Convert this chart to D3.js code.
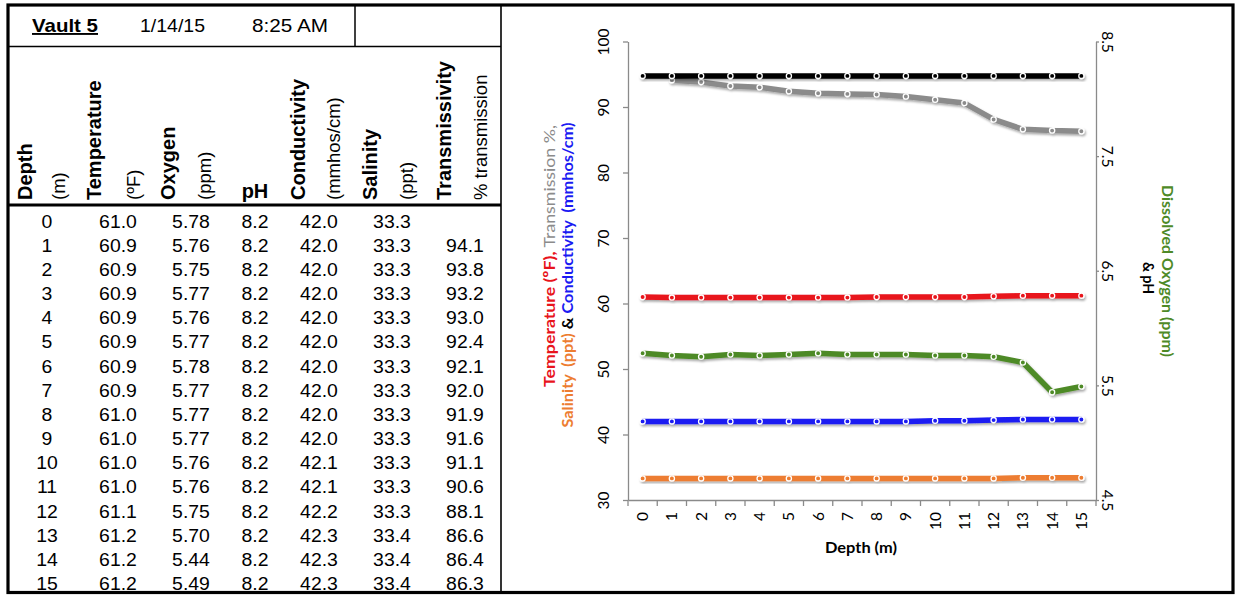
<!DOCTYPE html>
<html>
<head>
<meta charset="utf-8">
<script src="https://cdn.jsdelivr.net/npm/d3@7"></script>
<style>
  html, body { margin: 0; padding: 0; background: #fff; }
  svg { display: block; }
</style>
</head>
<body>
<svg id="sheet" width="1235" height="595"></svg>
<script>
// Vault 5 profile, 1/14/15 8:25 AM
const depths = [0, 1, 2, 3, 4, 5, 6, 7, 8, 9, 10, 11, 12, 13, 14, 15];
const temperature = [61.0, 60.9, 60.9, 60.9, 60.9, 60.9, 60.9, 60.9, 61.0, 61.0, 61.0, 61.0, 61.1, 61.2, 61.2, 61.2];
const oxygen = [5.78, 5.76, 5.75, 5.77, 5.76, 5.77, 5.78, 5.77, 5.77, 5.77, 5.76, 5.76, 5.75, 5.70, 5.44, 5.49];
const pH = [8.2, 8.2, 8.2, 8.2, 8.2, 8.2, 8.2, 8.2, 8.2, 8.2, 8.2, 8.2, 8.2, 8.2, 8.2, 8.2];
const conductivity = [42.0, 42.0, 42.0, 42.0, 42.0, 42.0, 42.0, 42.0, 42.0, 42.0, 42.1, 42.1, 42.2, 42.3, 42.3, 42.3];
const salinity = [33.3, 33.3, 33.3, 33.3, 33.3, 33.3, 33.3, 33.3, 33.3, 33.3, 33.3, 33.3, 33.3, 33.4, 33.4, 33.4];
const transmission = [null, 94.1, 93.8, 93.2, 93.0, 92.4, 92.1, 92.0, 91.9, 91.6, 91.1, 90.6, 88.1, 86.6, 86.4, 86.3];

const leftTicks = [30, 40, 50, 60, 70, 80, 90, 100];
const rightTicks = [4.5, 5.5, 6.5, 7.5, 8.5];

const svg = d3.select("#sheet");
const TABLE_FONT = "'Liberation Sans', Arial, Helvetica, sans-serif";
const CHART_FONT = "Lato, 'Open Sans', sans-serif";

/* ---------------- table ---------------- */
const table = svg.append("g").attr("font-family", TABLE_FONT).attr("fill", "#000");

// header line 1
table.append("text").attr("x", 32).attr("y", 32).attr("font-size", 19).attr("font-weight", "bold")
  .attr("text-decoration", "underline").attr("textLength", 66).attr("lengthAdjust", "spacingAndGlyphs").text("Vault 5");
table.append("text").attr("x", 140).attr("y", 32).attr("font-size", 18.5)
  .attr("textLength", 65).attr("lengthAdjust", "spacingAndGlyphs").text("1/14/15");
table.append("text").attr("x", 252).attr("y", 32).attr("font-size", 18.5)
  .attr("textLength", 76).attr("lengthAdjust", "spacingAndGlyphs").text("8:25 AM");

// rotated column headings
const headings = [
  { t: "Depth", x: 32, b: true },
  { t: "(m)", x: 65, b: false },
  { t: "Temperature", x: 101, b: true },
  { t: "(ºF)", x: 140, b: false },
  { t: "Oxygen", x: 175, b: true },
  { t: "(ppm)", x: 211, b: false },
  { t: "Conductivity", x: 305, b: true },
  { t: "(mmhos/cm)", x: 340, b: false },
  { t: "Salinity", x: 377, b: true },
  { t: "(ppt)", x: 413, b: false },
  { t: "Transmissivity", x: 451, b: true },
  { t: "% transmission", x: 487, b: false }
];
table.selectAll("text.head").data(headings).join("text")
  .attr("class", "head")
  .attr("transform", d => `translate(${d.x},200) rotate(-90)`)
  .attr("font-size", d => d.b ? 20 : 18.5)
  .attr("font-weight", d => d.b ? "bold" : "normal")
  .text(d => d.t);
table.append("text").attr("x", 255).attr("y", 198).attr("text-anchor", "middle")
  .attr("font-size", 20).attr("font-weight", "bold").text("pH");

// data rows
const colX = [47, 118, 191, 255, 319, 392, 465];
const rowY = d3.scaleLinear().domain([0, 15]).range([227.5, 590]);
const fmt1 = v => v == null ? "" : v.toFixed(1);
const fmt2 = v => v == null ? "" : v.toFixed(2);
const rows = depths.map((d, i) => [
  String(d), fmt1(temperature[i]), fmt2(oxygen[i]), fmt1(pH[i]),
  fmt1(conductivity[i]), fmt1(salinity[i]), fmt1(transmission[i])
]);
rows.forEach((cells, i) => {
  table.selectAll(null).data(cells).join("text")
    .attr("transform", (c, j) => `translate(${colX[j]},${rowY(i)}) scale(1.05,1)`)
    .attr("text-anchor", "middle").attr("font-size", 18.5)
    .text(c => c);
});

// table rules
const rules = svg.append("g").attr("stroke", "#000").attr("fill", "none");
rules.append("line").attr("x1", 8).attr("x2", 501).attr("y1", 46.5).attr("y2", 46.5).attr("stroke-width", 1.5);
rules.append("line").attr("x1", 355).attr("x2", 355).attr("y1", 5).attr("y2", 46.5).attr("stroke-width", 1.5);
rules.append("line").attr("x1", 8).attr("x2", 501).attr("y1", 205).attr("y2", 205).attr("stroke-width", 3);
rules.append("line").attr("x1", 501).attr("x2", 501).attr("y1", 5).attr("y2", 592).attr("stroke-width", 1.6);
rules.append("rect").attr("x", 8).attr("y", 5).attr("width", 1225).attr("height", 587.5).attr("stroke-width", 3.2);

/* ---------------- chart ---------------- */
const chart = svg.append("g").attr("font-family", CHART_FONT);
const x = d3.scaleBand().domain(depths).range([628, 1096]);
const yL = d3.scaleLinear().domain([30, 100]).range([500, 41.5]);
const yR = d3.scaleLinear().domain([4.5, 8.5]).range([500, 41.5]);
const cx = d => x(d) + x.bandwidth() / 2;

const defs = svg.append("defs");
defs.append("filter").attr("id", "shade").attr("x", "-5%").attr("y", "-50%").attr("width", "110%").attr("height", "200%")
  .append("feDropShadow").attr("dx", 1.2).attr("dy", 1.8).attr("stdDeviation", 1.3)
  .attr("flood-color", "#000").attr("flood-opacity", 0.35);

const AXIS = "#8a8a8a";
function styleAxis(g) {
  g.select(".domain").attr("stroke", AXIS).attr("stroke-width", 1.3);
  g.selectAll(".tick line").attr("stroke", AXIS).attr("stroke-width", 1.3);
  g.selectAll(".tick text").attr("fill", "#000").attr("font-size", 15.5).attr("font-family", CHART_FONT);
}

// left axis
const gL = chart.append("g").attr("transform", "translate(628,0)")
  .call(d3.axisLeft(yL).tickValues(leftTicks).tickSize(5).tickSizeOuter(0).tickFormat(d3.format("d")));
styleAxis(gL);
gL.selectAll(".tick text").attr("transform", "rotate(-90)").attr("x", 0).attr("y", -19).attr("dy", 0)
  .attr("text-anchor", "middle");

// right axis
const gR = chart.append("g").attr("transform", "translate(1096,0)")
  .call(d3.axisRight(yR).tickValues(rightTicks).tickSize(3).tickSizeOuter(0).tickFormat(d3.format(".1f")));
styleAxis(gR);
gR.selectAll(".tick text").attr("transform", "rotate(90)").attr("x", 0).attr("y", -6).attr("dy", 0)
  .attr("text-anchor", "middle");

// bottom axis with ticks on band edges
const gB = chart.append("g").attr("transform", "translate(0,500)")
  .call(d3.axisBottom(x).tickSize(0).tickSizeOuter(0));
styleAxis(gB);
gB.selectAll(".tick line").remove();
gB.selectAll(".tick text").attr("transform", "rotate(-90)").attr("x", -12).attr("y", 5.5).attr("dy", 0)
  .attr("text-anchor", "end");
const edges = depths.map(d => x(d)).concat([x.range()[1]]);
gB.selectAll("line.edge").data(edges).join("line").attr("class", "edge")
  .attr("x1", e => e).attr("x2", e => e)
  .attr("y1", 0).attr("y2", 6).attr("stroke", AXIS).attr("stroke-width", 1.3);

// axis titles
chart.append("text").attr("x", 861).attr("y", 553).attr("text-anchor", "middle")
  .attr("font-size", 15.5).attr("font-weight", "bold").attr("fill", "#000")
  .attr("textLength", 72).attr("lengthAdjust", "spacingAndGlyphs").text("Depth (m)");

const RED = "#e8141c", GRAY = "#8b8b8b", BLUE = "#1a1af2", ORANGE = "#ed7d31", GREEN = "#4e8a27", BLACK = "#000";

const t1 = chart.append("text").attr("transform", "translate(555,256) rotate(-90)")
  .attr("text-anchor", "middle").attr("font-size", 16)
  .attr("textLength", 262).attr("lengthAdjust", "spacingAndGlyphs");
t1.append("tspan").attr("fill", RED).attr("font-weight", "bold").text("Temperature (ºF),");
t1.append("tspan").attr("fill", GRAY).text(" Transmission %,");

const t2 = chart.append("text").attr("transform", "translate(573,275) rotate(-90)")
  .attr("text-anchor", "middle").attr("font-size", 16).attr("font-weight", "bold")
  .attr("textLength", 305).attr("lengthAdjust", "spacingAndGlyphs");
t2.append("tspan").attr("fill", ORANGE).text("Salinity\u00a0\u00a0(ppt)");
t2.append("tspan").attr("fill", BLACK).text(" & ");
t2.append("tspan").attr("fill", BLUE).text("Conductivity\u00a0\u00a0(mmhos/cm)");

chart.append("text").attr("transform", "translate(1162,271) rotate(90)").attr("text-anchor", "middle")
  .attr("font-size", 15.5).attr("font-weight", "bold").attr("fill", GREEN)
  .attr("textLength", 172).attr("lengthAdjust", "spacingAndGlyphs").text("Dissolved Oxygen (ppm)");
chart.append("text").attr("transform", "translate(1143,278) rotate(90)").attr("text-anchor", "middle")
  .attr("font-size", 15.5).attr("font-weight", "bold").attr("fill", BLACK)
  .attr("textLength", 32).attr("lengthAdjust", "spacingAndGlyphs").text("& pH");

// series
const series = [
  { values: salinity, y: yL, color: ORANGE },
  { values: conductivity, y: yL, color: BLUE },
  { values: oxygen, y: yR, color: GREEN },
  { values: temperature, y: yL, color: RED },
  { values: transmission, y: yL, color: GRAY },
  { values: pH, y: yR, color: BLACK }
];

const plot = chart.append("g");
series.forEach(s => {
  const pts = depths.map((d, i) => ({ d, v: s.values[i] })).filter(p => p.v != null);
  const line = d3.line().x(p => cx(p.d)).y(p => s.y(p.v));
  const g = plot.append("g").attr("filter", "url(#shade)");
  g.append("path").datum(pts).attr("d", line).attr("fill", "none")
    .attr("stroke", s.color).attr("stroke-width", 5.5).attr("stroke-linejoin", "round");
  g.selectAll("circle").data(pts).join("circle")
    .attr("cx", p => cx(p.d)).attr("cy", p => s.y(p.v)).attr("r", 2.6)
    .attr("fill", s.color).attr("stroke", "#fff").attr("stroke-width", 1.3);
});
</script>
</body>
</html>
